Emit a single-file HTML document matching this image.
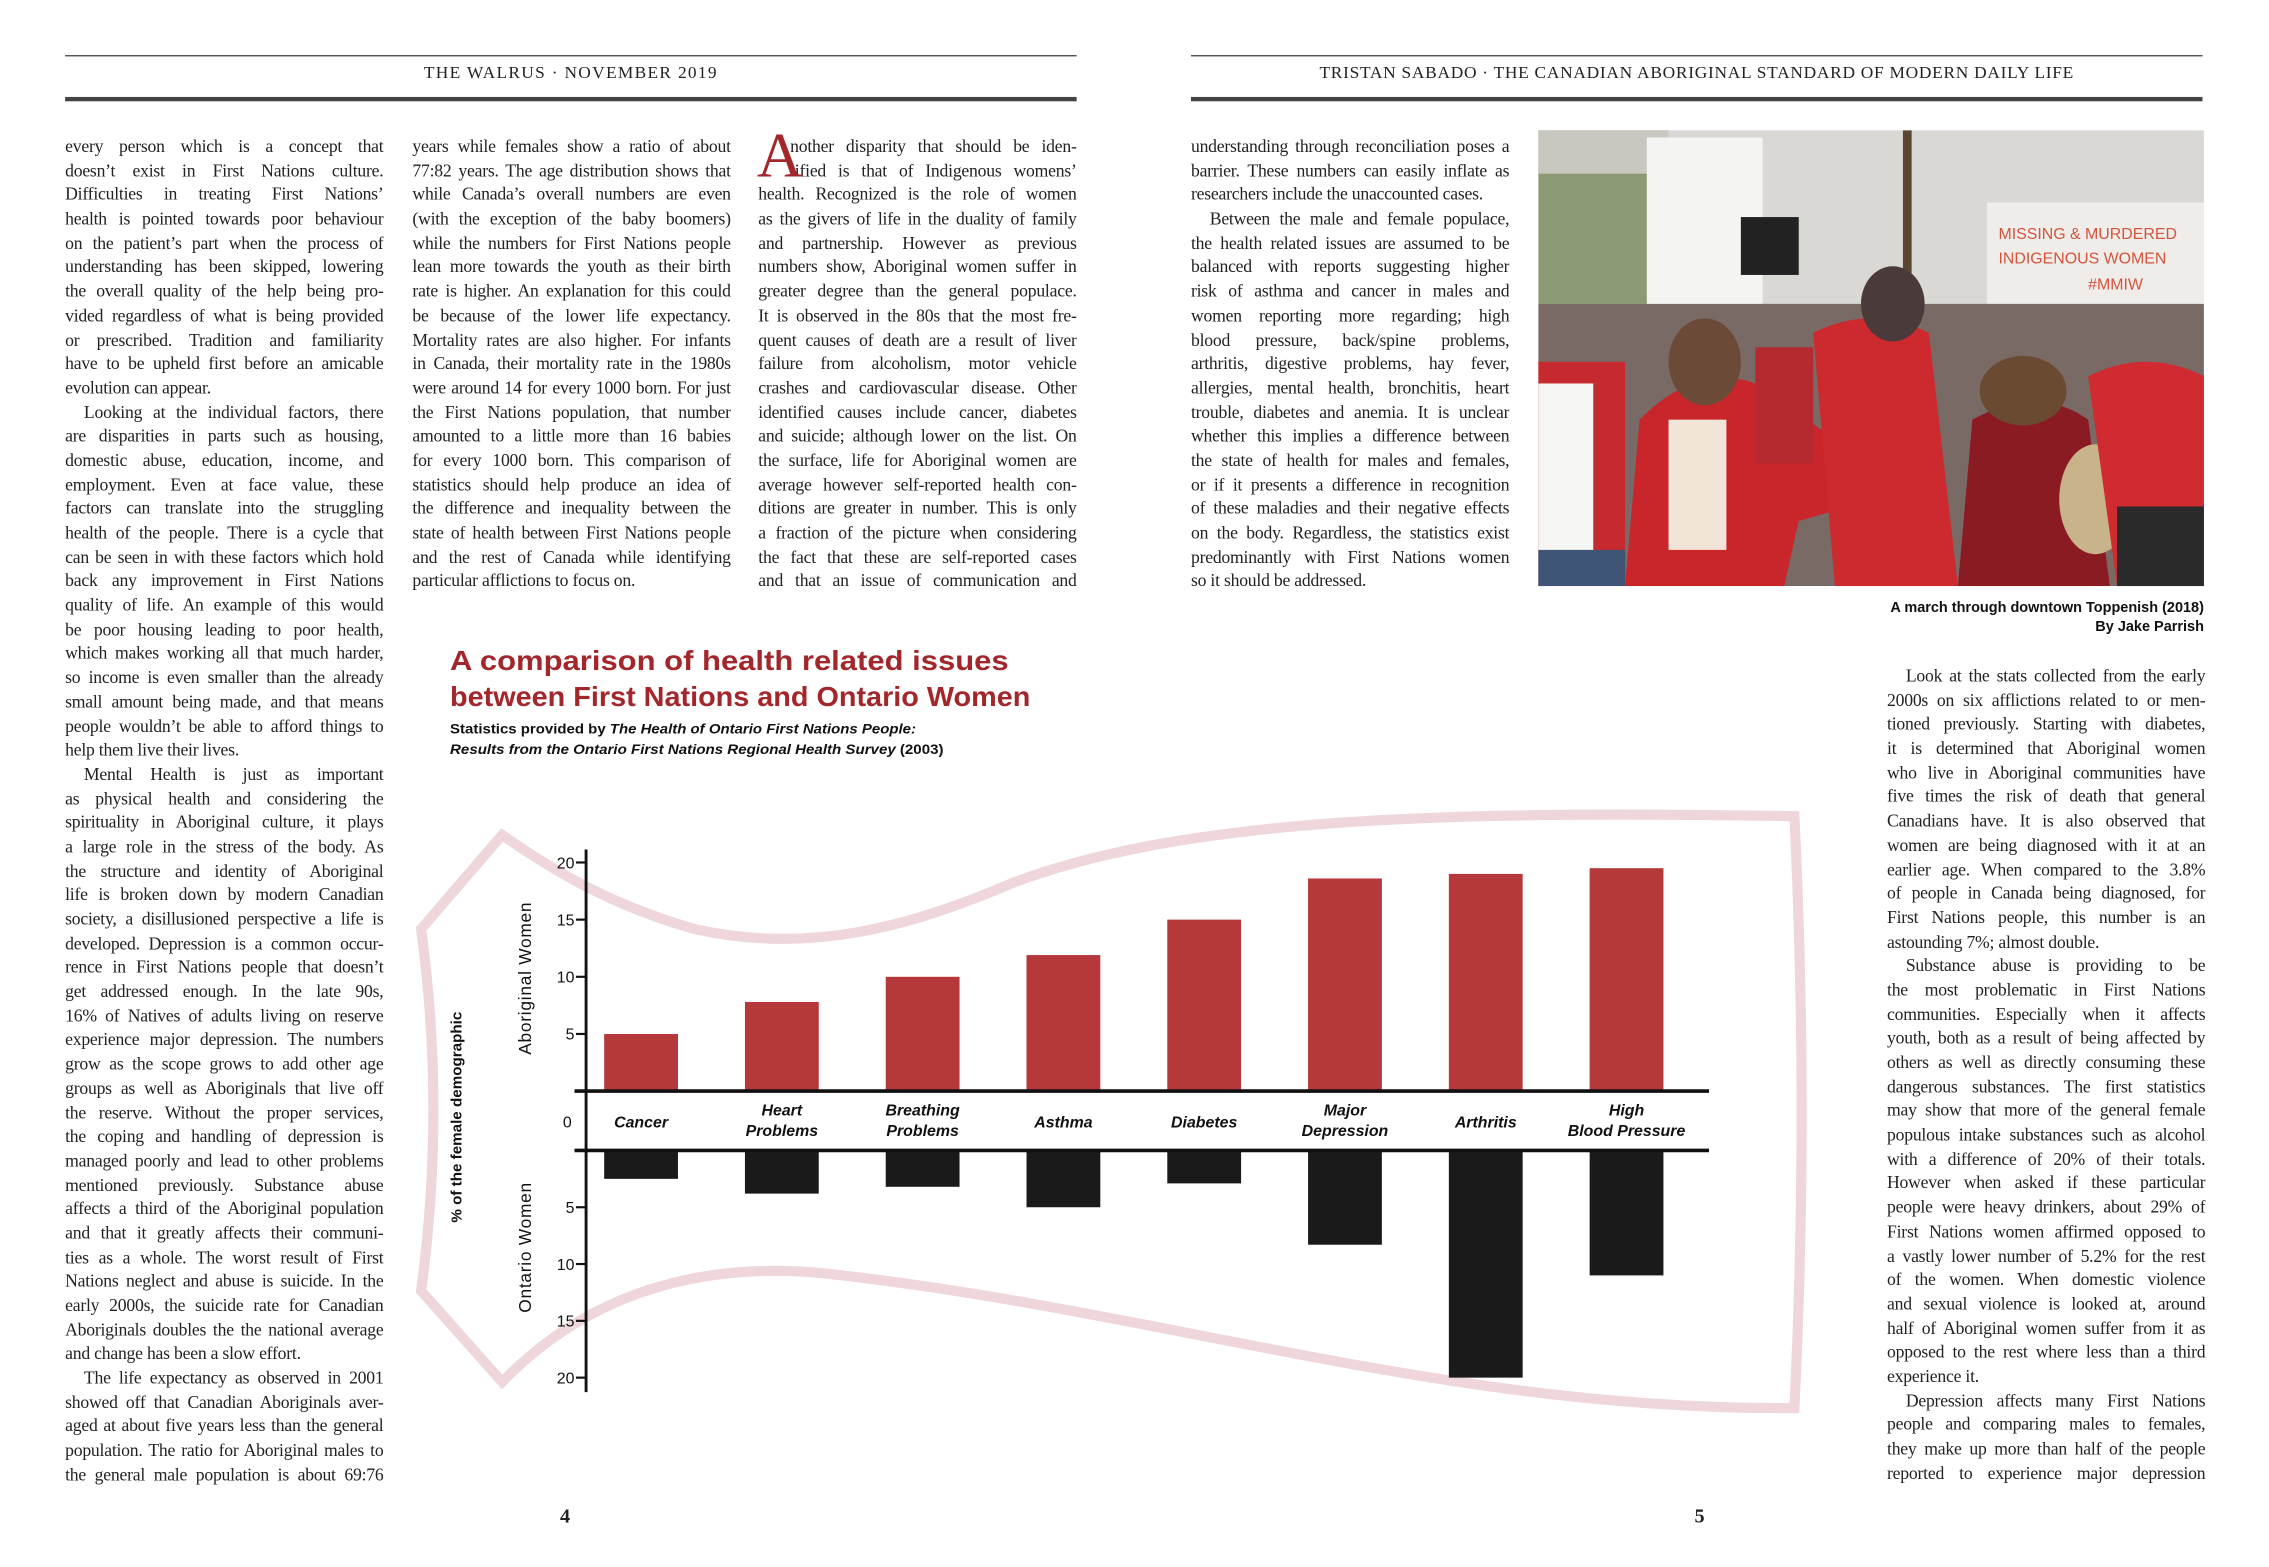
<!DOCTYPE html>
<html><head><meta charset="utf-8">
<style>
html,body{margin:0;padding:0;background:#fff;}
body{width:2269px;height:1566px;overflow:hidden;position:relative;}
#page{position:absolute;left:0;top:0;width:1568px;height:1083px;transform:scale(1.4471);transform-origin:0 0;}
.rule{position:absolute;background:#555;}
.hdr{position:absolute;font-family:"Liberation Serif",serif;font-size:12px;letter-spacing:0.9px;color:#222;text-align:center;}
.col{position:absolute;width:220px;font-family:"Liberation Serif",serif;font-size:12.2px;color:#222;}
.ln{height:16.7px;line-height:16.7px;overflow:hidden;text-align:justify;text-align-last:justify;letter-spacing:-0.15px;}
.ln.last{text-align-last:left;}
.ln.ind{text-indent:13px;}
.pn{position:absolute;font-family:"Liberation Serif",serif;font-weight:bold;font-size:14px;color:#222;}
.cap{position:absolute;left:1063px;width:460px;font-family:"Liberation Sans",sans-serif;font-weight:bold;font-size:10px;color:#111;text-align:right;line-height:13px;}
</style></head>
<body>
<div id="page">
  <div class="rule" style="left:45px;top:38px;width:699px;height:1px;"></div>
  <div class="rule" style="left:45px;top:67px;width:699px;height:2.5px;background:#444"></div>
  <div class="hdr" style="left:45px;top:43px;width:699px;">THE WALRUS · NOVEMBER 2019</div>
  <div class="rule" style="left:823px;top:38px;width:699px;height:1px;"></div>
  <div class="rule" style="left:823px;top:67px;width:699px;height:2.5px;background:#444"></div>
  <div class="hdr" style="left:823px;top:43px;width:699px;letter-spacing:0.5px">TRISTAN SABADO · THE CANADIAN ABORIGINAL STANDARD OF MODERN DAILY LIFE</div>

  <div class="col" id="c1" style="left:45px;top:93px;"></div>
  <div class="col" id="c2" style="left:285px;top:93px;"></div>
  <div class="col" id="c3" style="left:524px;top:93px;"></div>
  <div style="position:absolute;left:523px;top:86px;font-family:'Liberation Serif',serif;font-size:44px;line-height:44px;color:#a3262b">A</div>
  <div class="col" id="c4" style="left:823px;top:93px;"></div>
  <div class="col" id="c5" style="left:1304px;top:459px;"></div>

  <svg style="position:absolute;left:1063px;top:90px" width="460" height="315" viewBox="0 0 460 315">
    <rect width="460" height="315" fill="#d9d8d4"/>
    <rect x="0" y="0" width="90" height="120" fill="#8c9a73"/>
    <rect x="0" y="0" width="90" height="30" fill="#c9c8c0"/>
    <rect x="75" y="5" width="80" height="120" fill="#f4f4f2"/>
    <rect x="140" y="60" width="40" height="40" fill="#222"/>
    <rect x="252" y="0" width="6" height="120" fill="#5b4630"/>
    <rect x="310" y="50" width="150" height="78" fill="#efecea"/>
    <text x="318" y="75" font-family="Liberation Sans,sans-serif" font-size="11" fill="#d2553c">MISSING &amp; MURDERED</text>
    <text x="318" y="92" font-family="Liberation Sans,sans-serif" font-size="11" fill="#d2553c">INDIGENOUS WOMEN</text>
    <text x="380" y="110" font-family="Liberation Sans,sans-serif" font-size="11" fill="#d2553c">#MMIW</text>
    <rect x="0" y="120" width="460" height="195" fill="#7a6a66"/>
    <rect x="0" y="160" width="60" height="155" fill="#c72a2e"/>
    <rect x="0" y="175" width="38" height="120" fill="#f5f5f3"/>
    <rect x="0" y="290" width="60" height="25" fill="#3f5576"/>
    <path d="M60,315 L70,200 Q110,160 150,175 L200,210 L215,260 L180,270 L170,315 Z" fill="#c8262b"/>
    <ellipse cx="115" cy="160" rx="25" ry="30" fill="#6b4a38"/>
    <rect x="90" y="200" width="40" height="90" fill="#f3e4d8"/>
    <path d="M190,140 Q230,120 270,140 L290,315 L205,315 Z" fill="#cc2a2f"/>
    <ellipse cx="245" cy="120" rx="22" ry="26" fill="#4b3a3a"/>
    <path d="M290,315 L300,200 Q345,175 380,200 L395,315 Z" fill="#8a1b22"/>
    <ellipse cx="335" cy="180" rx="30" ry="24" fill="#6a4a30"/>
    <ellipse cx="385" cy="255" rx="25" ry="38" fill="#c8b38a"/>
    <path d="M380,170 Q420,150 460,170 L460,315 L400,315 Z" fill="#cf2b31"/>
    <rect x="400" y="260" width="60" height="55" fill="#2a2a2a"/>
    <rect x="150" y="150" width="40" height="80" fill="#b52a30"/>
  </svg>
  <div class="cap" style="top:414px">A march through downtown Toppenish (2018)<br>By Jake Parrish</div>

  <div class="pn" style="left:387px;top:1041px">4</div>
  <div class="pn" style="left:1171px;top:1041px">5</div>

  <svg id="chart" style="position:absolute;left:0;top:0" width="1568" height="1083" viewBox="0 0 1568 1083">
    <path d="M347,577 L291,642 Q308,767 291,892 L347,955 C410,890 490,872 570,880 C800,905 1000,975 1240,973 Q1250,770 1240,564 C1000,560 820,565 700,610 C630,640 560,660 480,642 C420,625 380,600 347,577 Z" fill="none" stroke="#eed6db" stroke-width="7" stroke-linejoin="miter"/>
    <text x="311" y="463" font-family="Liberation Sans,sans-serif" font-weight="bold" font-size="19" fill="#a3262b" textLength="386" lengthAdjust="spacingAndGlyphs">A comparison of health related issues</text>
    <text x="311" y="488" font-family="Liberation Sans,sans-serif" font-weight="bold" font-size="19" fill="#a3262b" textLength="401" lengthAdjust="spacingAndGlyphs">between First Nations and Ontario Women</text>
    <text x="311" y="507" font-family="Liberation Sans,sans-serif" font-weight="bold" font-size="9.5" fill="#111" textLength="322" lengthAdjust="spacingAndGlyphs">Statistics provided by <tspan font-style="italic">The Health of Ontario First Nations People:</tspan></text>
    <text x="311" y="521" font-family="Liberation Sans,sans-serif" font-weight="bold" font-size="9.5" fill="#111" textLength="341" lengthAdjust="spacingAndGlyphs"><tspan font-style="italic">Results from the Ontario First Nations Regional Health Survey</tspan> (2003)</text>
    <text transform="translate(319,772) rotate(-90)" text-anchor="middle" font-family="Liberation Sans,sans-serif" font-weight="bold" font-size="10.5" fill="#111">% of the female demographic</text>
    <text transform="translate(367,676) rotate(-90)" text-anchor="middle" font-family="Liberation Sans,sans-serif" font-size="12" letter-spacing="0.5" fill="#111">Aboriginal Women</text>
    <text transform="translate(367,862) rotate(-90)" text-anchor="middle" font-family="Liberation Sans,sans-serif" font-size="12" letter-spacing="0.5" fill="#111">Ontario Women</text>
    <g id="marks"></g>
  </svg>
</div>
<script>
const categories = ["Cancer","Heart\nProblems","Breathing\nProblems","Asthma","Diabetes","Major\nDepression","Arthritis","High\nBlood Pressure"];
const aboriginalValues = [5, 7.8, 10, 11.9, 15, 18.6, 19, 19.5];
const ontarioValues = [2.5, 3.8, 3.2, 5, 2.9, 8.3, 20, 11];
const upperTicks = [5, 10, 15, 20];
const lowerTicks = [5, 10, 15, 20];

const NS = "http://www.w3.org/2000/svg";
const upZero = 754, downZero = 795, pxPerUnit = 7.9;
function yUp(v){ return upZero - v * pxPerUnit; }
function yDown(v){ return downZero + v * 7.85; }
function xCenter(i){ return 443 + i * (1124 - 443) / (categories.length - 1); }
const barW = 51;
const g = document.getElementById("marks");
function mk(tag, attrs){ const e = document.createElementNS(NS, tag); for (const k in attrs) e.setAttribute(k, attrs[k]); g.appendChild(e); return e; }

aboriginalValues.forEach((v, i) => {
  const r = mk("rect", {x: xCenter(i) - barW/2, y: yUp(v), width: barW, height: upZero - yUp(v), fill: "#b5383a"});
  
  
});
ontarioValues.forEach((v, i) => {
  const r = mk("rect", {x: xCenter(i) - barW/2, y: downZero, width: barW, height: yDown(v) - downZero, fill: "#1a1a1a"});
  
  
});
const axis = mk("line", {x1: 405, y1: 587, x2: 405, y2: 962, stroke: "#111", "stroke-width": 2});


[upZero, downZero].forEach(y => {
  const l = mk("line", {x1: 397, y1: y, x2: 1181, y2: y, stroke: "#111", "stroke-width": 2.5});
  
  
});
function tick(y, label){
  const t = mk("line", {x1: 398, y1: y, x2: 405, y2: y, stroke: "#111", "stroke-width": 1.5});
  
  
  const tx = mk("text", {x: 397, y: y + 4, "text-anchor": "end", "font-family": "Liberation Sans,sans-serif", "font-size": 11, fill: "#111"});
  tx.textContent = label;
  
  
}
upperTicks.forEach(v => tick(yUp(v), v));
lowerTicks.forEach(v => tick(yDown(v), v));
const z = mk("text", {x: 392, y: 779, "text-anchor": "middle", "font-family": "Liberation Sans,sans-serif", "font-size": 11, fill: "#111"});
z.textContent = "0";


categories.forEach((c, i) => {
  const parts = c.split("\n");
  parts.forEach((p, j) => {
    const y = parts.length === 1 ? 779 : 771 + j * 14;
    const t = mk("text", {x: xCenter(i), y: y, "text-anchor": "middle", "font-family": "Liberation Sans,sans-serif", "font-size": 11, "font-weight": "bold", "font-style": "italic", fill: "#111"});
    t.textContent = p;
    
    
  });
});

const texts = {
c1: `every person which is a concept that
doesn’t exist in First Nations culture.
Difficulties in treating First Nations’
health is pointed towards poor behaviour
on the patient’s part when the process of
understanding has been skipped, lowering
the overall quality of the help being pro-
vided regardless of what is being provided
or prescribed. Tradition and familiarity
have to be upheld first before an amicable
evolution can appear.|
>Looking at the individual factors, there
are disparities in parts such as housing,
domestic abuse, education, income, and
employment. Even at face value, these
factors can translate into the struggling
health of the people. There is a cycle that
can be seen in with these factors which hold
back any improvement in First Nations
quality of life. An example of this would
be poor housing leading to poor health,
which makes working all that much harder,
so income is even smaller than the already
small amount being made, and that means
people wouldn’t be able to afford things to
help them live their lives.|
>Mental Health is just as important
as physical health and considering the
spirituality in Aboriginal culture, it plays
a large role in the stress of the body. As
the structure and identity of Aboriginal
life is broken down by modern Canadian
society, a disillusioned perspective a life is
developed. Depression is a common occur-
rence in First Nations people that doesn’t
get addressed enough. In the late 90s,
16% of Natives of adults living on reserve
experience major depression. The numbers
grow as the scope grows to add other age
groups as well as Aboriginals that live off
the reserve. Without the proper services,
the coping and handling of depression is
managed poorly and lead to other problems
mentioned previously. Substance abuse
affects a third of the Aboriginal population
and that it greatly affects their communi-
ties as a whole. The worst result of First
Nations neglect and abuse is suicide. In the
early 2000s, the suicide rate for Canadian
Aboriginals doubles the the national average
and change has been a slow effort.|
>The life expectancy as observed in 2001
showed off that Canadian Aboriginals aver-
aged at about five years less than the general
population. The ratio for Aboriginal males to
the general male population is about 69:76`,
c2: `years while females show a ratio of about
77:82 years. The age distribution shows that
while Canada’s overall numbers are even
(with the exception of the baby boomers)
while the numbers for First Nations people
lean more towards the youth as their birth
rate is higher. An explanation for this could
be because of the lower life expectancy.
Mortality rates are also higher. For infants
in Canada, their mortality rate in the 1980s
were around 14 for every 1000 born. For just
the First Nations population, that number
amounted to a little more than 16 babies
for every 1000 born. This comparison of
statistics should help produce an idea of
the difference and inequality between the
state of health between First Nations people
and the rest of Canada while identifying
particular afflictions to focus on.|`,
c3: `#nother disparity that should be iden-
#tified is that of Indigenous womens’
health. Recognized is the role of women
as the givers of life in the duality of family
and partnership. However as previous
numbers show, Aboriginal women suffer in
greater degree than the general populace.
It is observed in the 80s that the most fre-
quent causes of death are a result of liver
failure from alcoholism, motor vehicle
crashes and cardiovascular disease. Other
identified causes include cancer, diabetes
and suicide; although lower on the list. On
the surface, life for Aboriginal women are
average however self-reported health con-
ditions are greater in number. This is only
a fraction of the picture when considering
the fact that these are self-reported cases
and that an issue of communication and`,
c4: `understanding through reconciliation poses a
barrier. These numbers can easily inflate as
researchers include the unaccounted cases.|
>Between the male and female populace,
the health related issues are assumed to be
balanced with reports suggesting higher
risk of asthma and cancer in males and
women reporting more regarding; high
blood pressure, back/spine problems,
arthritis, digestive problems, hay fever,
allergies, mental health, bronchitis, heart
trouble, diabetes and anemia. It is unclear
whether this implies a difference between
the state of health for males and females,
or if it presents a difference in recognition
of these maladies and their negative effects
on the body. Regardless, the statistics exist
predominantly with First Nations women
so it should be addressed.|`,
c5: `>Look at the stats collected from the early
2000s on six afflictions related to or men-
tioned previously. Starting with diabetes,
it is determined that Aboriginal women
who live in Aboriginal communities have
five times the risk of death that general
Canadians have. It is also observed that
women are being diagnosed with it at an
earlier age. When compared to the 3.8%
of people in Canada being diagnosed, for
First Nations people, this number is an
astounding 7%; almost double.|
>Substance abuse is providing to be
the most problematic in First Nations
communities. Especially when it affects
youth, both as a result of being affected by
others as well as directly consuming these
dangerous substances. The first statistics
may show that more of the general female
populous intake substances such as alcohol
with a difference of 20% of their totals.
However when asked if these particular
people were heavy drinkers, about 29% of
First Nations women affirmed opposed to
a vastly lower number of 5.2% for the rest
of the women. When domestic violence
and sexual violence is looked at, around
half of Aboriginal women suffer from it as
opposed to the rest where less than a third
experience it.|
>Depression affects many First Nations
people and comparing males to females,
they make up more than half of the people
reported to experience major depression`
};
for (const id in texts) {
  const col = document.getElementById(id);
  texts[id].split("\n").forEach(raw => {
    let s = raw;
    const d = document.createElement("div");
    d.className = "ln";
    if (s.startsWith(">")) { s = s.slice(1); d.classList.add("ind"); }
    if (s.startsWith("#")) { s = s.slice(1); d.style.paddingLeft = "22px"; }
    if (s.endsWith("|")) { s = s.slice(0, -1); d.classList.add("last"); }
    d.textContent = s;
    
    
    col.appendChild(d);
  });
}
</script>
</body></html>
